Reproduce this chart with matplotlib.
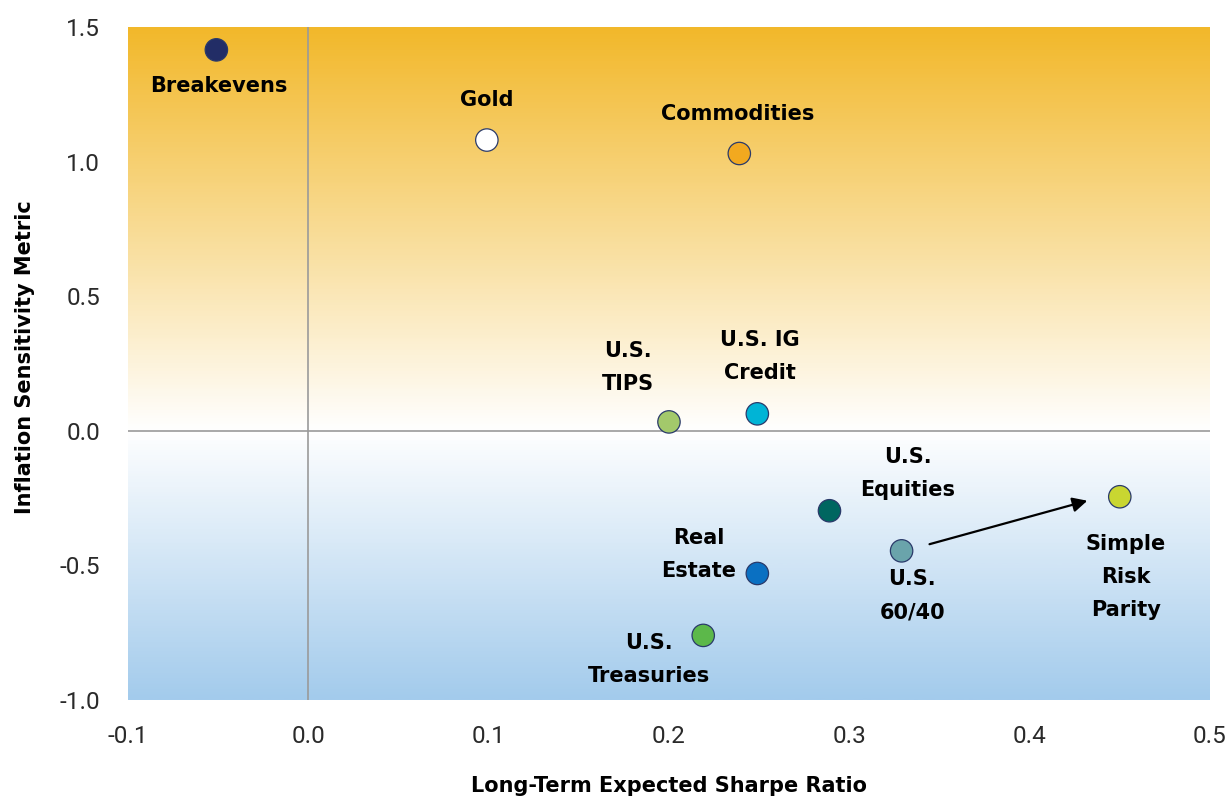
import matplotlib.pyplot as plt
import numpy as np
from matplotlib.colors import LinearSegmentedColormap

# Date
names = ["Breakevens", "Gold", "Commodities", "U.S.\nTIPS", "U.S. IG\nCredit",
         "U.S.\nEquities", "U.S.\n60/40", "Real\nEstate", "U.S.\nTreasuries",
         "Simple\nRisk\nParity"]
sharpe = [-0.051, 0.099, 0.239, 0.200, 0.249, 0.289, 0.329, 0.249, 0.219, 0.450]
inflation = [1.415, 1.08, 1.03, 0.033, 0.063, -0.297, -0.446, -0.53, -0.76, -0.245]
colors = ["#222d66", "#ffffff", "#f2a91f", "#a3c96b", "#00b4d6",
          "#006660", "#6aa4ab", "#0a70c2", "#5cb84a", "#c9d631"]
label_xy = [(-0.0495, 1.279), (0.099, 1.227), (0.238, 1.175), (0.177, 0.234),
            (0.2505, 0.275), (0.3326, -0.16), (0.335, -0.613), (0.2167, -0.461),
            (0.189, -0.851), (0.4535, -0.543)]
xticks = [-0.1, 0.0, 0.1, 0.2, 0.3, 0.4, 0.5]
yticks = [-1.0, -0.5, 0.0, 0.5, 1.0, 1.5]

fig = plt.figure(figsize=(12.32, 7.98), dpi=100)
ax = fig.add_axes([0.1039, 0.1228, 0.8782, 0.8434])

# fundal in gradient: portocaliu sus, alb la zero, albastru jos
cmap = LinearSegmentedColormap.from_list(
    "bg", [(0.0, "#a3cbec"), (0.4, "#ffffff"), (1.0, "#f2b82a")])
grad = np.linspace(0, 1, 500).reshape(-1, 1)
ax.imshow(grad, cmap=cmap, aspect="auto", origin="lower",
          extent=[-0.1, 0.5, -1.0, 1.5], zorder=0)

ax.axhline(0, color="#9a9a9a", lw=1.2, zorder=1)
ax.axvline(0, color="#9a9a9a", lw=1.2, zorder=1)

ax.scatter(sharpe, inflation, s=260, c=colors, edgecolors="#2a3a6a",
           linewidths=0.9, zorder=3)

for name, (lx, ly) in zip(names, label_xy):
    ax.text(lx, ly, name, ha="center", va="center", fontsize=15,
            fontweight="bold", family="DejaVu Sans", linespacing=1.82, zorder=4)

# sageata 60/40 -> risk parity
ax.annotate("", xy=(0.4335, -0.257), xytext=(0.343, -0.424),
            arrowprops=dict(arrowstyle="-|>", color="black", lw=1.6,
                            mutation_scale=22), zorder=4)

ax.set_xlim(-0.1, 0.5)
ax.set_ylim(-1.0, 1.5)
ax.set_xticks(xticks)
ax.set_yticks(yticks)
ax.set_xticklabels([f"{t:.1f}" for t in xticks])
ax.set_yticklabels([f"{t:.1f}" for t in yticks])
ax.tick_params(length=0, labelsize=17.5, colors="#2a2a2a")
ax.tick_params(axis="x", pad=18)
ax.tick_params(axis="y", pad=20)
for lab in ax.get_xticklabels() + ax.get_yticklabels():
    lab.set_fontfamily("Roboto")
for s in ax.spines.values():
    s.set_visible(False)

fig.text(0.543, 0.003, "Long-Term Expected Sharpe Ratio", ha="center", va="bottom",
         fontsize=15, fontweight="bold")
fig.text(0.012, 0.553, "Inflation Sensitivity Metric", ha="left", va="center",
         rotation=90, fontsize=15, fontweight="bold")

fig.savefig("out.png", dpi=100)
